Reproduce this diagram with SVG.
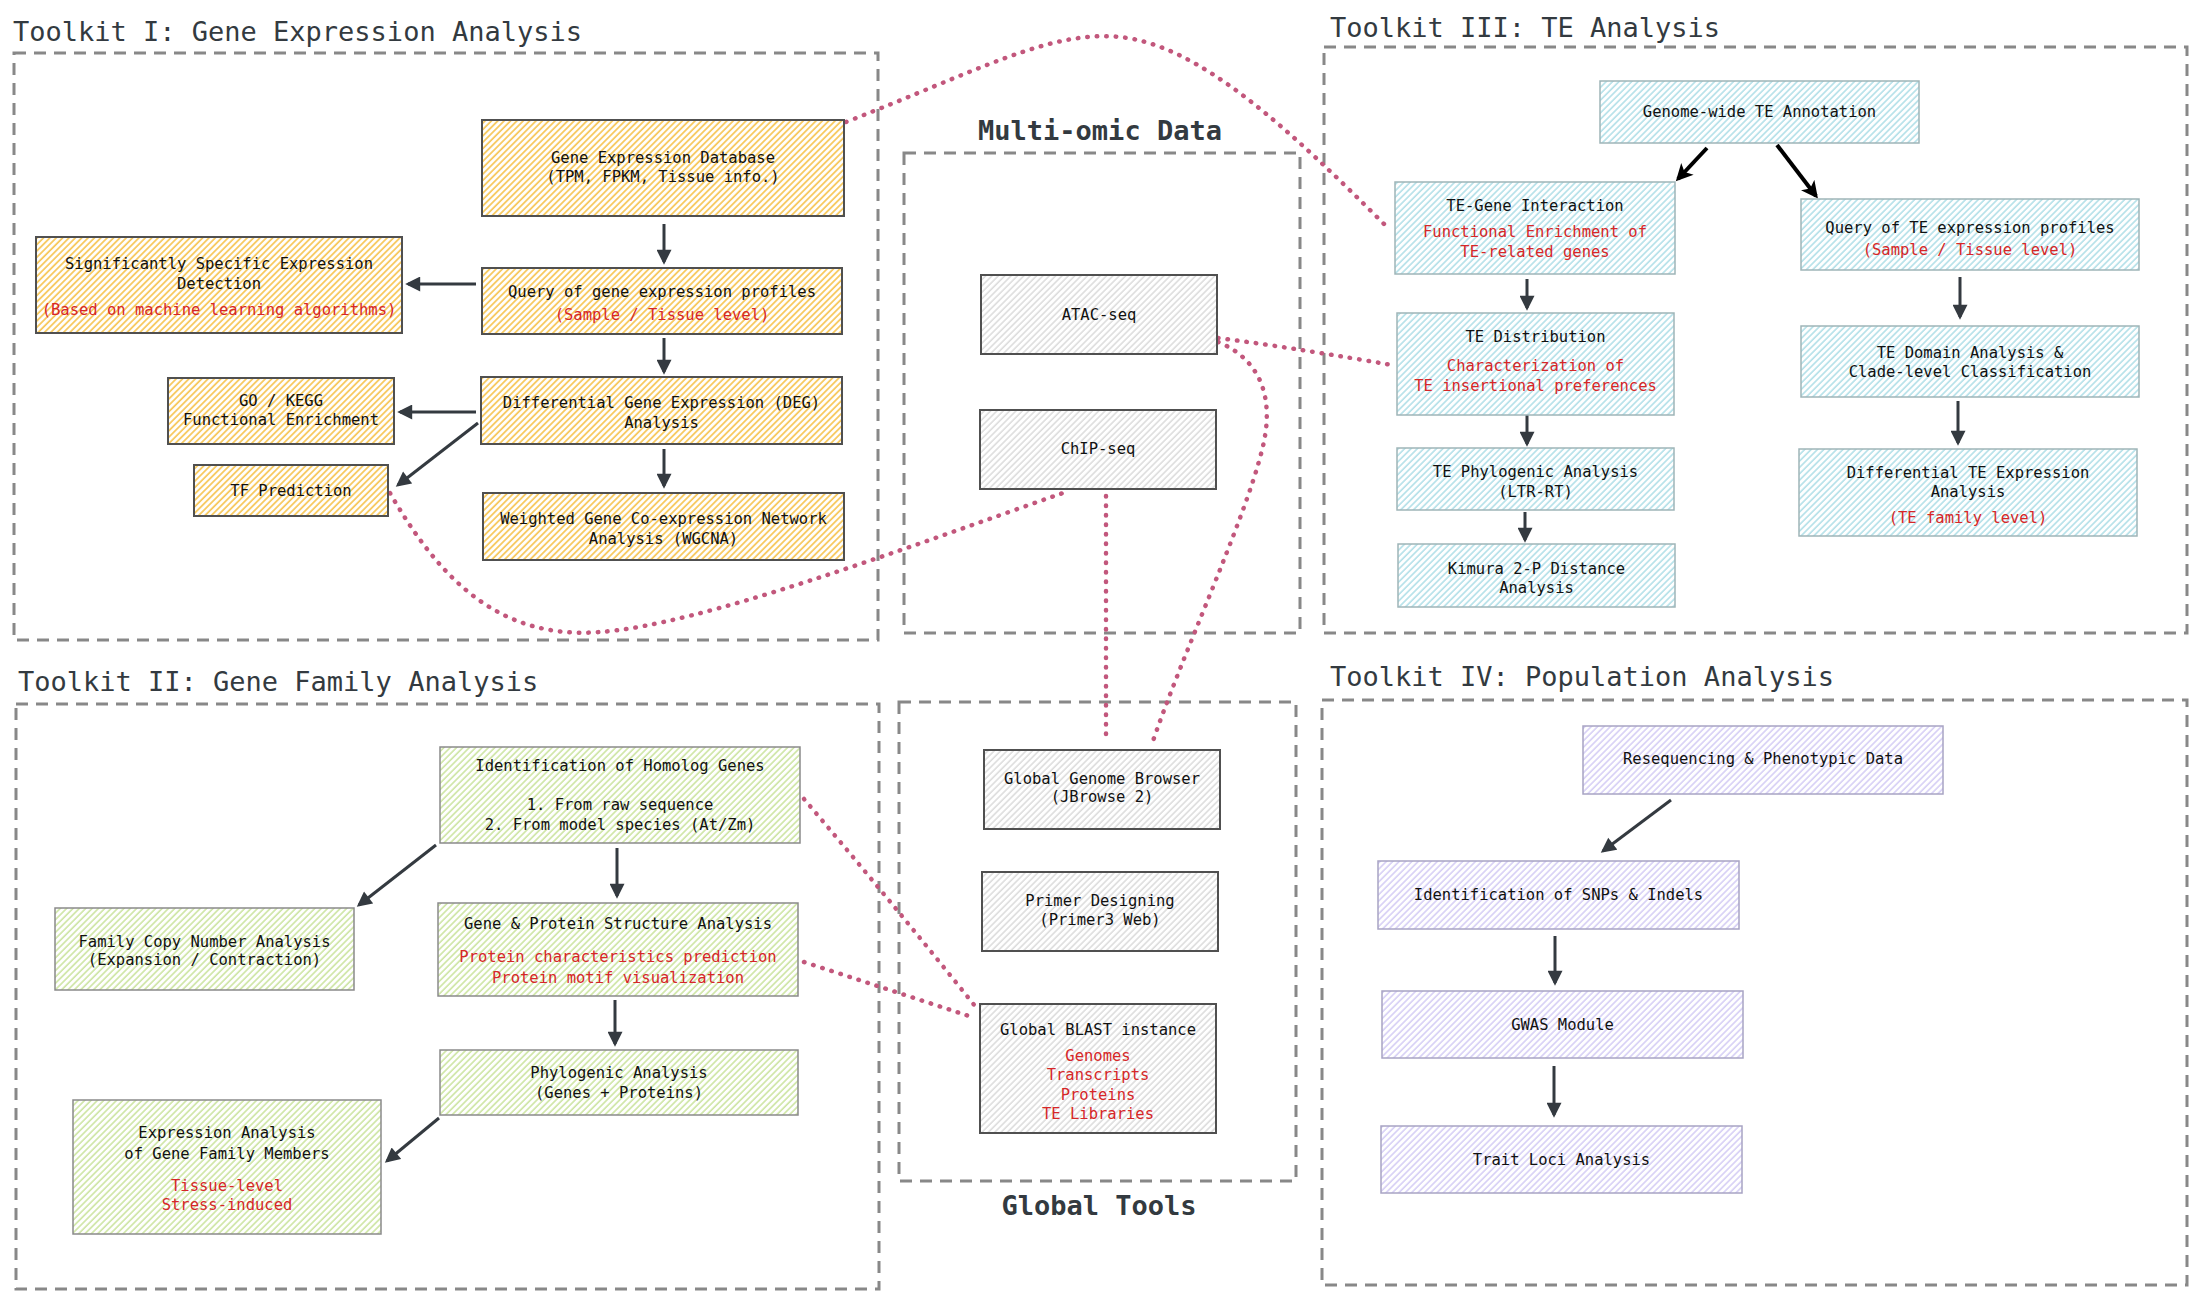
<svg xmlns="http://www.w3.org/2000/svg" width="2197" height="1299" viewBox="0 0 2197 1299">
<defs>
<pattern id="hy" patternUnits="userSpaceOnUse" width="4.5" height="4.5" patternTransform="rotate(45)"><rect width="4.5" height="4.5" fill="#ffffff"/><line x1="1" y1="0" x2="1" y2="4.5" stroke="#f7c655" stroke-width="1.7"/></pattern>
<pattern id="hc" patternUnits="userSpaceOnUse" width="4.5" height="4.5" patternTransform="rotate(45)"><rect width="4.5" height="4.5" fill="#ffffff"/><line x1="1" y1="0" x2="1" y2="4.5" stroke="#b3e0e8" stroke-width="1.6"/></pattern>
<pattern id="hg" patternUnits="userSpaceOnUse" width="4.5" height="4.5" patternTransform="rotate(45)"><rect width="4.5" height="4.5" fill="#ffffff"/><line x1="1" y1="0" x2="1" y2="4.5" stroke="#cde5a3" stroke-width="1.6"/></pattern>
<pattern id="hp" patternUnits="userSpaceOnUse" width="4.5" height="4.5" patternTransform="rotate(45)"><rect width="4.5" height="4.5" fill="#ffffff"/><line x1="1" y1="0" x2="1" y2="4.5" stroke="#d6cff5" stroke-width="1.6"/></pattern>
<pattern id="hs" patternUnits="userSpaceOnUse" width="4.5" height="4.5" patternTransform="rotate(45)"><rect width="4.5" height="4.5" fill="#ffffff"/><line x1="1" y1="0" x2="1" y2="4.5" stroke="#d8d8d8" stroke-width="1.4"/></pattern>
<marker id="ah" viewBox="0 0 16 16" refX="13" refY="8" markerWidth="16" markerHeight="15" markerUnits="userSpaceOnUse" orient="auto"><path d="M0,0 L16,8 L0,16 Z" fill="#343a40"/></marker>
<marker id="ahb" viewBox="0 0 16 16" refX="13" refY="8" markerWidth="18" markerHeight="17" markerUnits="userSpaceOnUse" orient="auto"><path d="M0,0 L16,8 L0,16 L4,8 Z" fill="#000000"/></marker>
</defs>
<style>
.cont{fill:none;stroke:#888888;stroke-width:3;stroke-dasharray:12 8}
.ttl{font-family:"DejaVu Sans Mono","Liberation Mono",monospace;font-size:27px;fill:#333a40}
.ttlb{font-family:"DejaVu Sans Mono","Liberation Mono",monospace;font-size:27px;font-weight:bold;fill:#333a40;text-anchor:middle}
.t{font-family:"DejaVu Sans Mono","Liberation Mono",monospace;font-size:15.5px;fill:#111111;text-anchor:middle}
.r{fill:#d62728}
.ny{fill:url(#hy);stroke:#505050;stroke-width:2}
.nc{fill:url(#hc);stroke:#9fb5b8;stroke-width:1.5}
.ng{fill:url(#hg);stroke:#8a8a8a;stroke-width:1.5}
.np{fill:url(#hp);stroke:#a8a4c4;stroke-width:1.5}
.ns{fill:url(#hs);stroke:#505050;stroke-width:2}
.a{fill:none;stroke:#343a40;stroke-width:3;marker-end:url(#ah)}
.ab{fill:none;stroke:#000000;stroke-width:4;marker-end:url(#ahb)}
.d{fill:none;stroke:#c2577c;stroke-width:4.5;stroke-dasharray:0.5 9;stroke-linecap:round}
</style>
<rect width="2197" height="1299" fill="#ffffff"/>

<g id="containers">
<rect class="cont" x="14" y="53" width="864" height="587"/>
<text class="ttl" x="13" y="41">Toolkit I: Gene Expression Analysis</text>
<rect class="cont" x="16" y="704" width="863" height="585"/>
<text class="ttl" x="18" y="691">Toolkit II: Gene Family Analysis</text>
<rect class="cont" x="1324" y="47" width="863" height="586"/>
<text class="ttl" x="1330" y="37">Toolkit III: TE Analysis</text>
<rect class="cont" x="1322" y="700" width="865" height="585"/>
<text class="ttl" x="1330" y="686">Toolkit IV: Population Analysis</text>
<rect class="cont" x="904" y="153" width="396" height="480"/>
<text class="ttlb" x="1100" y="140">Multi-omic Data</text>
<rect class="cont" x="899" y="702" width="397" height="479"/>
<text class="ttlb" x="1099" y="1215">Global Tools</text>
</g>

<g id="connectors">
<path class="a" d="M664,224 L664,262"/>
<path class="a" d="M476,284 L408,284"/>
<path class="a" d="M664,338 L664,372"/>
<path class="a" d="M476,412 L400,412"/>
<path class="a" d="M478,423 L398,485"/>
<path class="a" d="M664,449 L664,486"/>
<path class="ab" d="M1707,148 L1678,179"/>
<path class="ab" d="M1777,145 L1816,196"/>
<path class="a" d="M1527,279 L1527,308"/>
<path class="a" d="M1527,415 L1527,444"/>
<path class="a" d="M1525,512 L1525,540"/>
<path class="a" d="M1960,277 L1960,317"/>
<path class="a" d="M1958,401 L1958,443"/>
<path class="a" d="M436,845 L359,905"/>
<path class="a" d="M617,848 L617,896"/>
<path class="a" d="M615,1000 L615,1044"/>
<path class="a" d="M439,1118 L387,1161"/>
<path class="a" d="M1671,800 L1603,851"/>
<path class="a" d="M1555,936 L1555,983"/>
<path class="a" d="M1554,1066 L1554,1115"/>
<path class="d" d="M846,122 C980,70 1050,30 1120,37 C1200,45 1290,130 1388,228"/>
<path class="d" d="M1218,338 C1280,346 1340,356 1392,365"/>
<path class="d" d="M1218,342 C1262,360 1275,400 1262,450 C1245,520 1180,660 1152,744"/>
<path class="d" d="M1106,496 L1106,741"/>
<path class="d" d="M390,493 C440,580 500,640 600,632 C700,625 900,550 1063,493"/>
<path class="d" d="M804,799 Q890,900 975,1006"/>
<path class="d" d="M804,962 Q890,990 972,1017"/>
</g>

<g id="db"><rect class="ny" x="482" y="120" width="362" height="96"/><text class="t" x="663" y="163">Gene Expression Database</text><text class="t" x="663" y="182">(TPM, FPKM, Tissue info.)</text></g>
<g id="query"><rect class="ny" x="482" y="268" width="360" height="66"/><text class="t" x="662" y="297">Query of gene expression profiles</text><text class="t r" x="662" y="320">(Sample / Tissue level)</text></g>
<g id="ssed"><rect class="ny" x="36" y="237" width="366" height="96"/><text class="t" x="219" y="269">Significantly Specific Expression</text><text class="t" x="219" y="289">Detection</text><text class="t r" x="219" y="315">(Based on machine learning algorithms)</text></g>
<g id="deg"><rect class="ny" x="481" y="377" width="361" height="67"/><text class="t" x="661.5" y="408">Differential Gene Expression (DEG)</text><text class="t" x="661.5" y="428">Analysis</text></g>
<g id="go"><rect class="ny" x="168" y="378" width="226" height="66"/><text class="t" x="281" y="406">GO / KEGG</text><text class="t" x="281" y="425">Functional Enrichment</text></g>
<g id="tf"><rect class="ny" x="194" y="465" width="194" height="51"/><text class="t" x="291" y="496">TF Prediction</text></g>
<g id="wgcna"><rect class="ny" x="483" y="493" width="361" height="67"/><text class="t" x="663.5" y="524">Weighted Gene Co-expression Network</text><text class="t" x="663.5" y="544">Analysis (WGCNA)</text></g>

<g id="ann"><rect class="nc" x="1600" y="81" width="319" height="62"/><text class="t" x="1759.5" y="117">Genome-wide TE Annotation</text></g>
<g id="teg"><rect class="nc" x="1395" y="182" width="280" height="92"/><text class="t" x="1535" y="211">TE-Gene Interaction</text><text class="t r" x="1535" y="237">Functional Enrichment of</text><text class="t r" x="1535" y="257">TE-related genes</text></g>
<g id="qte"><rect class="nc" x="1801" y="199" width="338" height="71"/><text class="t" x="1970" y="233">Query of TE expression profiles</text><text class="t r" x="1970" y="255">(Sample / Tissue level)</text></g>
<g id="dist"><rect class="nc" x="1397" y="313" width="277" height="102"/><text class="t" x="1535.5" y="342">TE Distribution</text><text class="t r" x="1535.5" y="371">Characterization of</text><text class="t r" x="1535.5" y="391">TE insertional preferences</text></g>
<g id="dom"><rect class="nc" x="1801" y="326" width="338" height="71"/><text class="t" x="1970" y="358">TE Domain Analysis &amp;</text><text class="t" x="1970" y="377">Clade-level Classification</text></g>
<g id="phy"><rect class="nc" x="1397" y="448" width="277" height="62"/><text class="t" x="1535.5" y="477">TE Phylogenic Analysis</text><text class="t" x="1535.5" y="497">(LTR-RT)</text></g>
<g id="dte"><rect class="nc" x="1799" y="449" width="338" height="87"/><text class="t" x="1968" y="478">Differential TE Expression</text><text class="t" x="1968" y="497">Analysis</text><text class="t r" x="1968" y="523">(TE family level)</text></g>
<g id="kim"><rect class="nc" x="1398" y="544" width="277" height="63"/><text class="t" x="1536.5" y="574">Kimura 2-P Distance</text><text class="t" x="1536.5" y="593">Analysis</text></g>

<g id="hom"><rect class="ng" x="440" y="747" width="360" height="96"/><text class="t" x="620" y="771">Identification of Homolog Genes</text><text class="t" x="620" y="810">1. From raw sequence</text><text class="t" x="620" y="830">2. From model species (At/Zm)</text></g>
<g id="fcn"><rect class="ng" x="55" y="908" width="299" height="82"/><text class="t" x="204.5" y="947">Family Copy Number Analysis</text><text class="t" x="204.5" y="965">(Expansion / Contraction)</text></g>
<g id="gps"><rect class="ng" x="438" y="903" width="360" height="93"/><text class="t" x="618" y="929">Gene &amp; Protein Structure Analysis</text><text class="t r" x="618" y="962">Protein characteristics prediction</text><text class="t r" x="618" y="983">Protein motif visualization</text></g>
<g id="phg"><rect class="ng" x="440" y="1050" width="358" height="65"/><text class="t" x="619" y="1078">Phylogenic Analysis</text><text class="t" x="619" y="1098">(Genes + Proteins)</text></g>
<g id="exg"><rect class="ng" x="73" y="1100" width="308" height="134"/><text class="t" x="227" y="1138">Expression Analysis</text><text class="t" x="227" y="1159">of Gene Family Members</text><text class="t r" x="227" y="1191">Tissue-level</text><text class="t r" x="227" y="1210">Stress-induced</text></g>

<g id="rsq"><rect class="np" x="1583" y="726" width="360" height="68"/><text class="t" x="1763" y="764">Resequencing &amp; Phenotypic Data</text></g>
<g id="snp"><rect class="np" x="1378" y="861" width="361" height="68"/><text class="t" x="1558.5" y="900">Identification of SNPs &amp; Indels</text></g>
<g id="gwas"><rect class="np" x="1382" y="991" width="361" height="67"/><text class="t" x="1562.5" y="1030">GWAS Module</text></g>
<g id="trait"><rect class="np" x="1381" y="1126" width="361" height="67"/><text class="t" x="1561.5" y="1165">Trait Loci Analysis</text></g>

<g id="atac"><rect class="ns" x="981" y="275" width="236" height="79"/><text class="t" x="1099" y="320">ATAC-seq</text></g>
<g id="chip"><rect class="ns" x="980" y="410" width="236" height="79"/><text class="t" x="1098" y="454">ChIP-seq</text></g>
<g id="ggb"><rect class="ns" x="984" y="750" width="236" height="79"/><text class="t" x="1102" y="784">Global Genome Browser</text><text class="t" x="1102" y="802">(JBrowse 2)</text></g>
<g id="primer"><rect class="ns" x="982" y="872" width="236" height="79"/><text class="t" x="1100" y="906">Primer Designing</text><text class="t" x="1100" y="925">(Primer3 Web)</text></g>
<g id="blast"><rect class="ns" x="980" y="1004" width="236" height="129"/><text class="t" x="1098" y="1035">Global BLAST instance</text><text class="t r" x="1098" y="1061">Genomes</text><text class="t r" x="1098" y="1080">Transcripts</text><text class="t r" x="1098" y="1100">Proteins</text><text class="t r" x="1098" y="1119">TE Libraries</text></g>
</svg>
